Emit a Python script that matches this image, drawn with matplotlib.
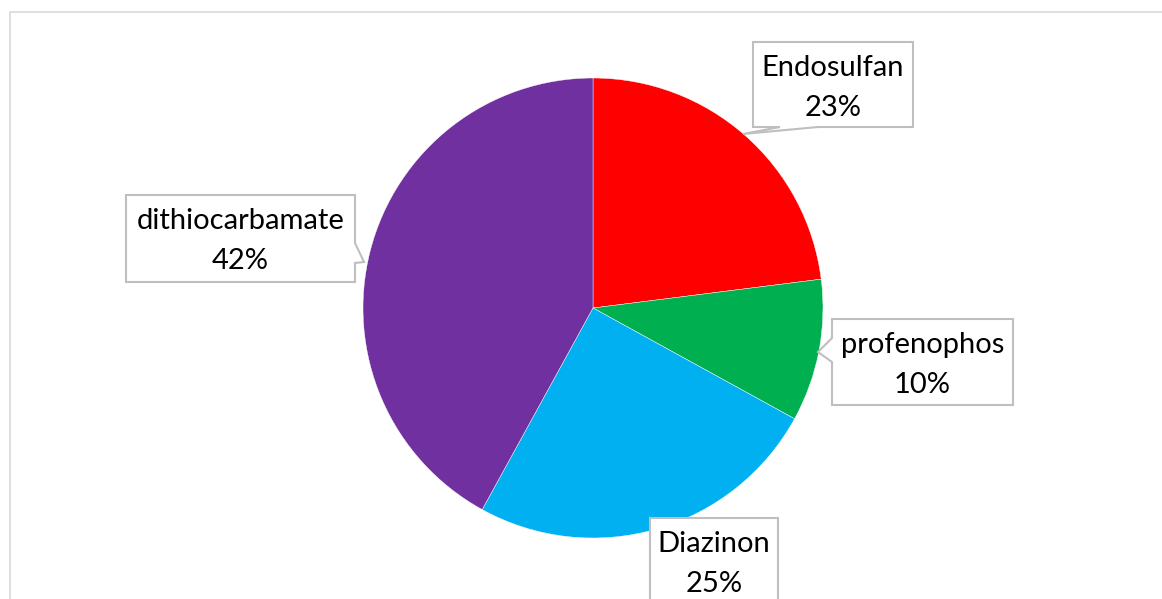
import matplotlib
matplotlib.use("Agg")
import matplotlib.pyplot as plt
from matplotlib.patches import Polygon, Rectangle

# Pesticide residue shares
labels = ["Endosulfan", "profenophos", "Diazinon", "dithiocarbamate"]
shares = [23, 10, 25, 42]
colors = ["#FF0000", "#00B050", "#00B0F0", "#7030A0"]

W, H = 1162, 599
fig = plt.figure(figsize=(W / 100, H / 100), dpi=100)
ax = fig.add_axes([0, 0, 1, 1])


def Y(y):
    return H - y


cx, cy, r = 593, 308, 230
ax.pie(shares, colors=colors, startangle=90, counterclock=False,
       center=(cx, Y(cy)), radius=r, frame=True,
       wedgeprops=dict(edgecolor="white", linewidth=0.3))
ax.set_xlim(0, W)
ax.set_ylim(0, H)
ax.set_aspect("equal")
ax.axis("off")

# chart area border
ax.add_patch(Rectangle((9.5, Y(640)), 1200, 640 - 11.5, fill=False,
                       edgecolor="#D9D9D9", linewidth=1.2, zorder=0))


def callout(box, side, base, tip):
    """Label box (x0, y0, x1, y1 in px from top) with a pointer wedge."""
    x0, y0, x1, y1 = box
    corners = {"top": [(x0, y0), (x1, y0)],
               "right": [(x1, y0), (x1, y1)],
               "bottom": [(x1, y1), (x0, y1)],
               "left": [(x0, y1), (x0, y0)]}
    order = ["top", "right", "bottom", "left"]
    pts = []
    for s in order:
        a, b = corners[s]
        pts.append(a)
        if s == side:
            b0, b1 = base
            if s in ("top", "bottom"):
                seq = sorted([b0, b1], reverse=(s == "bottom"))
                pts += [(seq[0], a[1]), tip, (seq[1], a[1])]
            else:
                seq = sorted([b0, b1], reverse=(s == "left"))
                pts += [(a[0], seq[0]), tip, (a[0], seq[1])]
    poly = Polygon([(x, Y(y)) for x, y in pts], closed=True,
                   facecolor="white", edgecolor="#BFBFBF", linewidth=1.5,
                   zorder=5)
    ax.add_patch(poly)


boxes = [(753, 42, 913, 127), (832, 319, 1013, 405),
         (650, 518, 778, 640), (126, 195, 355, 282)]
pointers = [("bottom", (780, 818), (743, 134)),
            ("left", (338, 362), (818, 352)),
            (None, None, None),
            ("right", (243, 263), (364, 262))]

for lab, val, box, (side, base, tip) in zip(labels, shares, boxes, pointers):
    callout(box, side, base, tip)
    x0, y0, x1, y1 = box
    tx = (x0 + x1) / 2
    ty = y0 + 46
    ax.text(tx, Y(ty), f"{lab}\n{val}%", ha="center", va="center",
            fontsize=21, family="Lato", linespacing=1.7, color="black",
            zorder=6)

fig.savefig("out.png", dpi=100)
